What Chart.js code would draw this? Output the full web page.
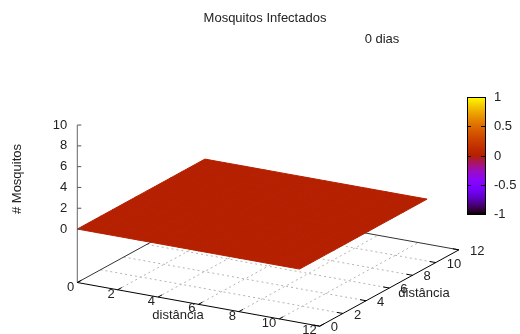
<!DOCTYPE html>
<html><head><meta charset="utf-8">
<script src="https://cdn.jsdelivr.net/npm/chart.js@4/dist/chart.umd.min.js"></script>
<style>html,body{margin:0;padding:0;background:#fff}#wrap{width:520px;height:334px}</style>
</head><body><div id="wrap"><canvas id="c" width="520" height="334"></canvas></div>
<script>
// ---- data ----
const titleText = "Mosquitos Infectados";
const subtitleText = "0 dias";
const xLabel = "distância";
const yLabel = "distância";
const zLabel = "# Mosquitos";
const xGrid = [0,1,2,3,4,5,6,7,8,9,10,11];
const yGrid = [0,1,2,3,4,5,6,7,8,9,10,11];
const zValues = [
  [0,0,0,0,0,0,0,0,0,0,0,0],
  [0,0,0,0,0,0,0,0,0,0,0,0],
  [0,0,0,0,0,0,0,0,0,0,0,0],
  [0,0,0,0,0,0,0,0,0,0,0,0],
  [0,0,0,0,0,0,0,0,0,0,0,0],
  [0,0,0,0,0,0,0,0,0,0,0,0],
  [0,0,0,0,0,0,0,0,0,0,0,0],
  [0,0,0,0,0,0,0,0,0,0,0,0],
  [0,0,0,0,0,0,0,0,0,0,0,0],
  [0,0,0,0,0,0,0,0,0,0,0,0],
  [0,0,0,0,0,0,0,0,0,0,0,0],
  [0,0,0,0,0,0,0,0,0,0,0,0]
];
const xTicks = [0,2,4,6,8,10,12];
const yTicks = [0,2,4,6,8,10,12];
const zTicks = [0,2,4,6,8,10];
const cbTicks = [-1,-0.5,0,0.5,1];
const xRange = [0,12], yRange = [0,12], zRange = [0,10], cbRange = [-1,1];

// ---- view / projection (layout) ----
const VIEW = {ox:77.3, oy:282.5, ux:[20.2,3.64], uy:[11.6,-6.36], uz:10.4, zBase:-5.14};
function proj(x,y,z){
  return {x: VIEW.ox + x*VIEW.ux[0] + y*VIEW.uy[0],
          y: VIEW.oy + x*VIEW.ux[1] + y*VIEW.uy[1] - (z - VIEW.zBase)*VIEW.uz};
}
const CB = {x0:467, x1:485, y0:97, y1:214};
function cbY(v){ return CB.y1 - (v-cbRange[0])/(cbRange[1]-cbRange[0])*(CB.y1-CB.y0); }
function palette(v){
  let g = (v-cbRange[0])/(cbRange[1]-cbRange[0]);
  g = Math.max(0,Math.min(1,g));
  const r = Math.sqrt(g), gg = g*g*g, b = Math.max(0, Math.sin(2*Math.PI*g));
  return 'rgb('+Math.round(r*255)+','+Math.round(gg*255)+','+Math.round(b*255)+')';
}

// ---- datasets ----
const datasets = [];
function lineDS(pts, color, width, dash, order){
  datasets.push({data: pts, showLine:true, borderColor:color, borderWidth:width,
    borderDash: dash||[], pointRadius:0, fill:false, order:order, tension:0});
}
const zb = VIEW.zBase;
// grid on base
for (const t of xTicks) if (t>xRange[0] && t<xRange[1])
  lineDS([proj(t,yRange[0],zb), proj(t,yRange[1],zb)], '#b4b4b4', 1, [2,3], 30);
for (const t of yTicks) if (t>yRange[0] && t<yRange[1])
  lineDS([proj(xRange[0],t,zb), proj(xRange[1],t,zb)], '#b4b4b4', 1, [2,3], 30);
// back base edges
lineDS([proj(xRange[0],yRange[0],zb), proj(xRange[0],yRange[1],zb)], '#333', 1, [], 25);
lineDS([proj(xRange[0],yRange[1],zb), proj(xRange[1],yRange[1],zb)], '#333', 1, [], 25);
// front axes
lineDS([proj(xRange[0],yRange[0],zb), proj(xRange[1],yRange[0],zb)], '#000', 1, [], 20);
lineDS([proj(xRange[1],yRange[0],zb), proj(xRange[1],yRange[1],zb)], '#000', 1, [], 20);
// z axis
lineDS([proj(xRange[0],yRange[0],zb), proj(xRange[0],yRange[0],zRange[1])], '#666', 1, [], 20);
// surface cells (pm3d, mean of corners)
for (let i=0;i<xGrid.length-1;i++){
  for (let j=0;j<yGrid.length-1;j++){
    const z00=zValues[j][i], z10=zValues[j][i+1], z11=zValues[j+1][i+1], z01=zValues[j+1][i];
    const c = palette((z00+z10+z11+z01)/4);
    const pts = [proj(xGrid[i],yGrid[j],z00), proj(xGrid[i+1],yGrid[j],z10),
                 proj(xGrid[i+1],yGrid[j+1],z11), proj(xGrid[i],yGrid[j+1],z01),
                 proj(xGrid[i],yGrid[j],z00)];
    datasets.push({data:pts, showLine:true, borderColor:c, backgroundColor:c, borderWidth:1,
      pointRadius:0, fill:'shape', order: 5 + (xGrid.length - i) + (j), tension:0});
  }
}

// ---- text & decorations plugin ----
const deco = {
  id:'deco',
  afterDatasetsDraw(chart){
    const ctx = chart.ctx, sx = chart.scales.x, sy = chart.scales.y;
    const P = (p)=>({x:sx.getPixelForValue(p.x), y:sy.getPixelForValue(p.y)});
    ctx.save();
    ctx.font = '13px "Liberation Sans", Arial, sans-serif';
    ctx.fillStyle = '#222';
    ctx.strokeStyle = '#000';
    ctx.lineWidth = 1;
    // x ticks
    ctx.textAlign='right'; ctx.textBaseline='middle';
    for (const t of xTicks){
      const a = P(proj(t,yRange[0],zb)), b = P(proj(t,yRange[0]+0.35,zb));
      ctx.beginPath(); ctx.moveTo(a.x,a.y); ctx.lineTo(b.x,b.y); ctx.stroke();
      ctx.fillText(String(t), a.x-3, a.y+4.5);
    }
    // y ticks
    ctx.textAlign='left';
    for (const t of yTicks){
      const a = P(proj(xRange[1],t,zb)), b = P(proj(xRange[1]-0.3,t,zb));
      ctx.beginPath(); ctx.moveTo(a.x,a.y); ctx.lineTo(b.x,b.y); ctx.stroke();
      ctx.fillText(String(t), a.x+11, a.y+1.5);
    }
    // z ticks
    ctx.textAlign='right';
    ctx.strokeStyle='#555';
    for (const t of zTicks){
      const a = P(proj(xRange[0],yRange[0],t));
      ctx.beginPath(); ctx.moveTo(a.x,a.y); ctx.lineTo(a.x+4,a.y); ctx.stroke();
      ctx.fillText(String(t), a.x-10, a.y);
    }
    // axis labels
    ctx.textAlign='center';
    let p = P(proj(5,-1.3,zb)); ctx.fillText(xLabel, 178, 315);
    ctx.fillText(yLabel, 424, 293);
    ctx.save(); ctx.translate(17,179); ctx.rotate(-Math.PI/2); ctx.fillText(zLabel,0,0); ctx.restore();
    // titles
    ctx.fillText(titleText, 265, 18);
    ctx.fillText(subtitleText, 382, 39);
    // colorbar
    const top = sy.getPixelForValue(cbY(cbRange[1])), bot = sy.getPixelForValue(cbY(cbRange[0]));
    const l = sx.getPixelForValue(CB.x0), r = sx.getPixelForValue(CB.x1);
    const grad = ctx.createLinearGradient(0,bot,0,top);
    for (let k=0;k<=60;k++){ const v = cbRange[0]+(cbRange[1]-cbRange[0])*k/60; grad.addColorStop(k/60, palette(v)); }
    ctx.fillStyle = grad; ctx.fillRect(l,top,r-l,bot-top);
    ctx.strokeStyle='#000'; ctx.strokeRect(Math.round(l)+0.5,Math.round(top)+0.5,Math.round(r-l),Math.round(bot-top));
    ctx.fillStyle='#222'; ctx.textAlign='left';
    for (const t of cbTicks){
      const y = Math.round(sy.getPixelForValue(cbY(t)))+0.5;
      ctx.beginPath(); ctx.moveTo(l,y); ctx.lineTo(l+4,y); ctx.moveTo(r,y); ctx.lineTo(r-4,y); ctx.stroke();
      ctx.fillText(String(t), r+9, y);
    }
    ctx.restore();
  }
};

new Chart(document.getElementById('c'), {
  type:'scatter',
  data:{datasets},
  options:{
    responsive:false, animation:false, events:[],
    layout:{padding:0},
    plugins:{legend:{display:false}, tooltip:{enabled:false}, title:{display:false}},
    scales:{
      x:{type:'linear', min:0, max:520, display:false},
      y:{type:'linear', min:0, max:334, reverse:true, display:false}
    }
  },
  plugins:[deco]
});
</script></body></html>
